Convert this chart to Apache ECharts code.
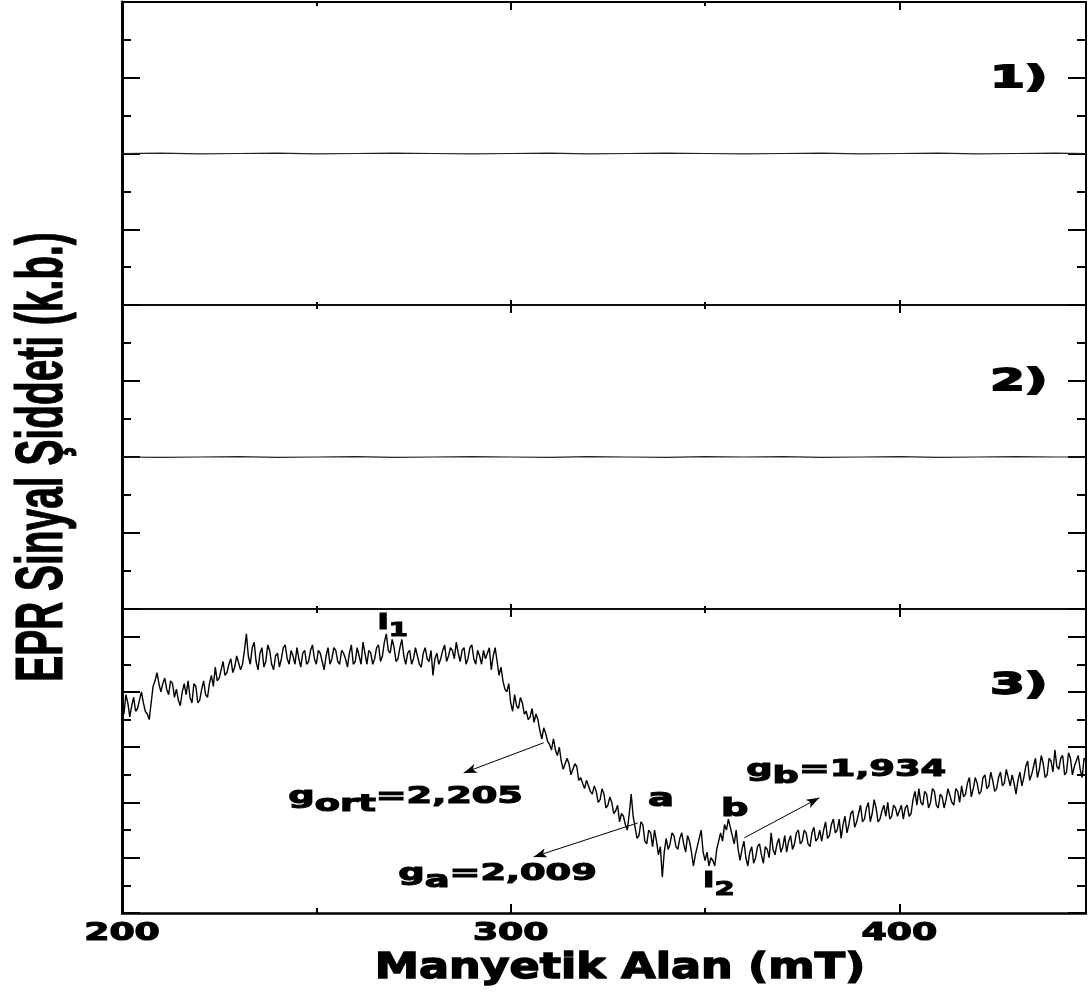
<!DOCTYPE html>
<html>
<head>
<meta charset="utf-8">
<title>EPR</title>
<script src="https://cdn.jsdelivr.net/npm/echarts@6.0.0/dist/echarts.min.js"></script>
<style>
html,body{margin:0;padding:0;background:#fff;}
#chart{width:1089px;height:995px;}
</style>
</head>
<body>
<div id="chart"></div>
<script>
// ---------------- data ----------------
const panelField = [200,210,220,230,240,250,260,270,280,290,300,310,320,330,340,350,360,370,380,390,400,410,420,430,440,448];
const panel1Signal = [0.00,0.01,-0.01,0.00,0.01,-0.01,0.00,0.01,0.00,-0.01,0.00,0.01,-0.01,0.00,0.01,0.00,-0.01,0.00,0.01,-0.01,0.00,0.01,-0.01,0.00,0.01,0.00];
const panel2Signal = [0.00,-0.01,0.00,0.01,-0.01,0.00,0.01,-0.01,0.00,0.01,0.00,-0.01,0.01,0.00,-0.01,0.01,0.00,0.01,-0.01,0.00,0.01,-0.01,0.00,0.01,0.00,0.00];

const field3 = [
200,200.5,201,201.5,202,202.5,203,203.5,204,204.5,205,205.5,206,206.5,207,207.5,208,208.5,209,209.5,
210,210.5,211,211.5,212,212.5,213,213.5,214,214.5,215,215.5,216,216.5,217,217.5,218,218.5,219,219.5,
220,220.5,221,221.5,222,222.5,223,223.5,224,224.5,225,225.5,226,226.5,227,227.5,228,228.5,229,229.5,
230,230.5,231,231.5,232,232.5,233,233.5,234,234.5,235,235.5,236,236.5,237,237.5,238,238.5,239,239.5,
240,240.5,241,241.5,242,242.5,243,243.5,244,244.5,245,245.5,246,246.5,247,247.5,248,248.5,249,249.5,
250,250.5,251,251.5,252,252.5,253,253.5,254,254.5,255,255.5,256,256.5,257,257.5,258,258.5,259,259.5,
260,260.5,261,261.5,262,262.5,263,263.5,264,264.5,265,265.5,266,266.5,267,267.5,268,268.5,269,269.5,
270,270.5,271,271.5,272,272.5,273,273.5,274,274.5,275,275.5,276,276.5,277,277.5,278,278.5,279,279.5,
280,280.5,281,281.5,282,282.5,283,283.5,284,284.5,285,285.5,286,286.5,287,287.5,288,288.5,289,289.5,
290,290.5,291,291.5,292,292.5,293,293.5,294,294.5,295,295.5,296,296.5,297,297.5,298,298.5,299,299.5,
300,300.5,301,301.5,302,302.5,303,303.5,304,304.5,305,305.5,306,306.5,307,307.5,308,308.5,309,309.5,
310,310.5,311,311.5,312,312.5,313,313.5,314,314.5,315,315.5,316,316.5,317,317.5,318,318.5,319,319.5,
320,320.5,321,321.5,322,322.5,323,323.5,324,324.5,325,325.5,326,326.5,327,327.5,328,328.5,329,329.5,
330,330.5,331,331.5,332,332.5,333,333.5,334,334.5,335,335.5,336,336.5,337,337.5,338,338.5,339,339.5,
340,340.5,341,341.5,342,342.5,343,343.5,344,344.5,345,345.5,346,346.5,347,347.5,348,348.5,349,349.5,
350,350.5,351,351.5,352,352.5,353,353.5,354,354.5,355,355.5,356,356.5,357,357.5,358,358.5,359,359.5,
360,360.5,361,361.5,362,362.5,363,363.5,364,364.5,365,365.5,366,366.5,367,367.5,368,368.5,369,369.5,
370,370.5,371,371.5,372,372.5,373,373.5,374,374.5,375,375.5,376,376.5,377,377.5,378,378.5,379,379.5,
380,380.5,381,381.5,382,382.5,383,383.5,384,384.5,385,385.5,386,386.5,387,387.5,388,388.5,389,389.5,
390,390.5,391,391.5,392,392.5,393,393.5,394,394.5,395,395.5,396,396.5,397,397.5,398,398.5,399,399.5,
400,400.5,401,401.5,402,402.5,403,403.5,404,404.5,405,405.5,406,406.5,407,407.5,408,408.5,409,409.5,
410,410.5,411,411.5,412,412.5,413,413.5,414,414.5,415,415.5,416,416.5,417,417.5,418,418.5,419,419.5,
420,420.5,421,421.5,422,422.5,423,423.5,424,424.5,425,425.5,426,426.5,427,427.5,428,428.5,429,429.5,
430,430.5,431,431.5,432,432.5,433,433.5,434,434.5,435,435.5,436,436.5,437,437.5,438,438.5,439,439.5,
440,440.5,441,441.5,442,442.5,443,443.5,444,444.5,445,445.5,446,446.5,447,447.5,448];
const signal3 = [
7.5,7.2,7.9,7.6,7.1,7.5,7.8,7.3,7.4,7.7,8.0,7.6,7.3,7.2,7.0,7.6,8.2,8.4,8.7,8.3,
8.0,8.3,8.5,8.1,7.9,8.4,8.3,7.8,8.1,7.7,7.5,8.0,8.3,7.9,8.4,7.8,7.6,8.3,8.2,7.6,
7.7,8.1,8.4,7.9,7.8,8.3,8.6,8.2,8.9,8.4,8.5,8.8,9.1,8.6,8.7,9.0,9.2,8.7,8.9,9.3,
9.3,8.8,9.0,9.5,10.1,9.3,9.0,9.6,9.8,9.1,8.8,9.4,9.6,8.9,9.1,9.7,9.5,9.0,8.8,9.3,
9.4,8.9,9.2,9.6,9.7,9.2,9.0,9.5,9.3,9.0,9.6,9.2,8.9,9.4,9.5,9.0,9.1,9.5,9.7,9.2,
9.0,9.5,9.4,9.1,8.8,9.3,9.6,9.0,9.2,9.6,9.5,9.1,9.0,9.5,9.4,9.2,8.9,9.4,9.7,9.0,
9.1,9.6,9.3,9.0,9.8,9.4,9.0,9.5,9.4,9.0,9.2,9.6,9.7,9.1,9.3,9.8,10.1,9.5,9.4,9.9,
9.6,9.1,9.2,9.6,9.9,9.3,9.0,9.4,9.5,9.0,9.2,9.6,9.3,9.0,8.9,9.4,9.6,9.2,9.1,9.5,
8.6,9.2,9.4,9.0,9.2,9.5,9.7,9.1,9.3,9.6,9.5,9.2,9.8,9.4,9.1,9.5,9.6,9.0,9.2,9.6,
9.7,9.2,9.0,9.5,9.3,9.0,9.5,9.2,9.4,9.6,8.8,9.3,9.6,9.1,8.6,8.9,8.4,8.1,8.0,8.3,
7.6,7.3,7.9,7.5,7.4,7.8,7.6,7.2,7.3,7.0,7.1,7.4,6.9,7.2,7.0,6.6,6.3,6.7,6.5,6.2,
6.1,5.9,6.3,5.9,5.7,6.0,5.5,5.2,5.2,5.6,5.4,5.0,5.0,5.4,5.3,4.8,4.9,4.7,4.5,4.8,
4.8,4.4,4.3,4.6,4.4,4.0,4.1,4.5,4.3,3.8,3.9,4.2,4.0,3.6,3.7,3.9,3.3,3.6,3.5,3.2,
3.0,3.6,4.3,3.5,3.1,2.7,2.8,3.3,3.2,2.6,2.5,3.0,2.9,2.4,3.0,2.6,2.1,2.4,1.3,2.2,
2.7,2.3,2.5,2.9,2.8,2.4,2.3,2.7,2.9,2.5,2.2,2.8,2.6,2.2,1.7,2.1,2.4,2.7,3.0,2.2,
1.9,2.2,1.7,2.0,1.9,1.7,2.3,2.6,2.9,2.6,3.2,3.0,3.4,3.1,2.8,2.5,3.0,2.3,1.9,2.3,
2.6,2.0,1.7,2.2,2.4,1.8,2.0,2.4,2.5,2.1,1.8,2.4,2.3,2.0,2.9,2.3,2.1,2.5,2.7,2.2,
2.4,2.8,2.2,2.6,2.8,2.3,2.5,2.9,3.0,2.5,2.6,3.0,2.9,2.5,2.4,2.9,3.1,2.6,2.7,3.0,
2.6,3.0,3.3,2.7,2.8,3.2,3.4,2.9,3.0,3.4,2.7,3.2,3.5,2.9,3.2,3.6,3.7,3.1,3.3,3.6,
3.9,3.3,3.4,3.8,4.0,3.3,3.6,4.1,3.8,3.3,3.4,3.7,3.9,3.5,4.0,3.4,3.5,3.9,3.8,3.5,
3.7,3.9,3.4,3.8,3.9,3.5,3.6,4.1,4.4,3.9,4.5,4.0,3.9,4.4,4.3,3.8,4.0,4.5,4.4,3.9,
3.8,4.3,4.2,3.8,4.1,4.5,4.5,4.0,3.9,4.5,4.4,4.0,4.6,4.2,4.3,4.7,4.9,4.2,4.5,4.9,
4.7,4.3,4.4,4.9,5.0,4.5,4.6,5.1,4.8,4.4,4.5,4.9,5.1,4.6,4.7,5.2,4.9,4.6,5.0,4.7,
4.3,4.8,5.1,4.6,4.9,5.3,5.5,4.8,5.0,5.3,5.6,4.9,5.2,5.7,5.4,4.9,5.0,5.6,5.5,5.1,
5.9,5.3,5.2,5.6,5.7,5.0,5.1,5.8,5.6,5.0,5.3,5.5,5.7,5.2,4.9,5.6,5.5];

const xTickValues = [200, 300, 400];
const xTickLabels = ['200', '300', '400'];
const panelLabels = ['1)', '2)', '3)'];
const xTitle = 'Manyetik Alan (mT)';
const yTitle = 'EPR Sinyal Şiddeti (k.b.)';
// g-value labels: [main, subscript, rest]
const gOrtLabel = ['g', 'ort', '=2,205'];
const gALabel = ['g', 'a', '=2,009'];
const gBLabel = ['g', 'b', '=1,934'];
const peak1Label = ['I', '1'];
const peak2Label = ['I', '2'];
const pointALabel = 'a';
const pointBLabel = 'b';
// arrows: [fromField, fromSignal, toField, toSignal]
const arrowOrt = [308.5, 6.16, 287.9, 5.07];
const arrowA = [332.7, 3.26, 305.9, 2.03];
const arrowB = [360.1, 2.72, 379.4, 4.17];

// ---------------- chart ----------------
const FONT = '"DejaVu Sans", "Liberation Sans", sans-serif';
const chart = echarts.init(document.getElementById('chart'), null, {renderer: 'canvas'});

const grids = [
  {left: 122, right: 3, top: 2, height: 303},
  {left: 122, right: 3, top: 305, height: 304},
  {left: 122, right: 3, top: 609, height: 304}
];
const yRanges = [[-4, 4], [-4, 4], [0, 11]];
const xAxis = [], yAxis = [];
const BLACK = '#000';
grids.forEach((g, i) => {
  const bx = {type: 'value', gridIndex: i, min: 200, max: 448, axisLabel: {show: false}, splitLine: {show: false}};
  const bottomW = i === 2 ? 2.5 : 1.5;
  const topW = i === 0 ? 2 : 1.5;
  xAxis.push(Object.assign({}, bx, {position: 'bottom', interval: 100,
    axisLine: {onZero: false, lineStyle: {color: BLACK, width: bottomW}},
    axisTick: {inside: true, length: i === 2 ? 9 : 5, lineStyle: {color: BLACK, width: 2}}}));
  xAxis.push(Object.assign({}, bx, {position: 'bottom', interval: 50,
    axisLine: {show: false, onZero: false},
    axisTick: {inside: true, length: i === 2 ? 5 : 3, lineStyle: {color: BLACK, width: 2}}}));
  xAxis.push(Object.assign({}, bx, {position: 'top', interval: 100,
    axisLine: {onZero: false, lineStyle: {color: BLACK, width: topW}},
    axisTick: {inside: true, length: 8, lineStyle: {color: BLACK, width: 2}}}));
  xAxis.push(Object.assign({}, bx, {position: 'top', interval: 50,
    axisLine: {show: false, onZero: false},
    axisTick: {inside: true, length: 4, lineStyle: {color: BLACK, width: 2}}}));

  const by = {type: 'value', gridIndex: i, min: yRanges[i][0], max: yRanges[i][1], axisLabel: {show: false}, splitLine: {show: false}};
  yAxis.push(Object.assign({}, by, {position: 'left', interval: 2,
    axisLine: {onZero: false, lineStyle: {color: BLACK, width: 3}},
    axisTick: {inside: true, length: 18, lineStyle: {color: BLACK, width: 2}}}));
  yAxis.push(Object.assign({}, by, {position: 'left', interval: 1,
    axisLine: {show: false, onZero: false},
    axisTick: {inside: true, length: 9, lineStyle: {color: BLACK, width: 2}}}));
  yAxis.push(Object.assign({}, by, {position: 'right', interval: 2,
    axisLine: {onZero: false, lineStyle: {color: BLACK, width: 2}},
    axisTick: {inside: true, length: 18, lineStyle: {color: BLACK, width: 2}}}));
  yAxis.push(Object.assign({}, by, {position: 'right', interval: 1,
    axisLine: {show: false, onZero: false},
    axisTick: {inside: true, length: 9, lineStyle: {color: BLACK, width: 2}}}));
});

function zip(a, b) { return a.map((v, k) => [v, b[k]]); }
function arrowData(a) { return [{coord: [a[0], a[1]]}, {coord: [a[2], a[3]]}]; }

const option = {
  animation: false,
  backgroundColor: '#fff',
  grid: grids,
  xAxis: xAxis,
  yAxis: yAxis,
  series: [
    {type: 'line', name: '1)', xAxisIndex: 0, yAxisIndex: 0, data: zip(panelField, panel1Signal),
      showSymbol: false, symbol: 'none', lineStyle: {color: '#222', width: 1.1}},
    {type: 'line', name: '2)', xAxisIndex: 4, yAxisIndex: 4, data: zip(panelField, panel2Signal),
      showSymbol: false, symbol: 'none', lineStyle: {color: '#222', width: 1.1}},
    {type: 'line', name: '3)', xAxisIndex: 8, yAxisIndex: 8, data: zip(field3, signal3),
      showSymbol: false, symbol: 'none', lineStyle: {color: '#000', width: 1.4},
      markLine: {silent: true, symbol: ['none', 'arrow'], symbolSize: [7, 13],
        label: {show: false}, lineStyle: {color: '#000', width: 1, type: 'solid'},
        emphasis: {disabled: true},
        data: [arrowData(arrowOrt), arrowData(arrowA), arrowData(arrowB)]}}
  ]
};
chart.setOption(option);

// ---------- text (real text, positioned through the axes) ----------
const mctx = document.createElement('canvas').getContext('2d');
function textW(t, size) { mctx.font = 'bold ' + size + 'px ' + FONT; return mctx.measureText(t).width; }
function textEl(t, size, x, baseline, sx, align, sw) {
  return {type: 'text', x: x, y: baseline - 0.346 * size, scaleX: sx, originX: 0, originY: 0, z: 50, silent: true,
    style: {text: t, font: 'bold ' + size + 'px ' + FONT, fill: '#000', stroke: '#000', lineWidth: sw == null ? 1.1 : sw,
      align: align || 'left', verticalAlign: 'middle'}};
}
function partsEls(parts, x, baseline, sx) {
  const els = []; let cx = x;
  parts.forEach(p => { els.push(textEl(p[0], p[1], cx, baseline + p[2], sx, 'left')); cx += textW(p[0], p[1]) * sx; });
  return els;
}
const P = (si, x, y) => chart.convertToPixel({seriesIndex: si}, [x, y]);
const els = [];
// tick labels
xTickValues.forEach((v, k) => {
  const p = P(2, v, 0);
  els.push(textEl(xTickLabels[k], 25, p[0], p[1] + 29, 1.45, 'center', 1.2));
});
// axis title
(function () {
  const a = P(2, 200, 0), b = P(2, 448, 0);
  els.push(textEl(xTitle, 35, (a[0] + b[0]) / 2 + 16, a[1] + 68, 1.27, 'center', 1.4));
})();
// y title
els.push({type: 'text', x: 44, y: 457, rotation: Math.PI / 2, scaleX: 1.08, scaleY: 1.85, z: 50, silent: true,
  style: {text: yTitle, font: 'bold 36px "Liberation Sans", Arial, sans-serif', fill: '#000', stroke: '#000', lineWidth: 0.6,
    align: 'center', verticalAlign: 'middle'}});
// panel labels
[[0, 438.1, 1.68], [1, 438.1, 1.68], [2, 438.1, 7.83]].forEach((q, k) => {
  const p = P(q[0], q[1], q[2]);
  els.push(textEl(panelLabels[k], 31, p[0], p[1], 1.6, 'right', 1.8));
});
// annotations in panel 3
function ann(parts, fx, fy, sx) { const p = P(2, fx, fy); partsEls(parts, p[0], p[1], sx).forEach(e => els.push(e)); }
ann([[peak1Label[0], 21, 0], [peak1Label[1], 19, 7]], 265.7, 10.22, 1.45);
ann([[peak2Label[0], 21, 0], [peak2Label[1], 20, 8]], 349.5, 0.87, 1.45);
ann([[gOrtLabel[0], 23, 0], [gOrtLabel[1], 23, 8], [gOrtLabel[2], 23, 0]], 242.8, 3.91, 1.6);
ann([[gALabel[0], 23, 0], [gALabel[1], 23, 7], [gALabel[2], 23, 0]], 271.1, 1.12, 1.6);
ann([[gBLabel[0], 23, 0], [gBLabel[1], 23, 7], [gBLabel[2], 23, 0]], 360.6, 4.89, 1.6);
ann([[pointALabel, 24, 0]], 335.3, 3.80, 1.6);
ann([[pointBLabel, 24, 0]], 354.1, 3.44, 1.6);

chart.setOption({graphic: {elements: els}});
</script>
</body>
</html>
